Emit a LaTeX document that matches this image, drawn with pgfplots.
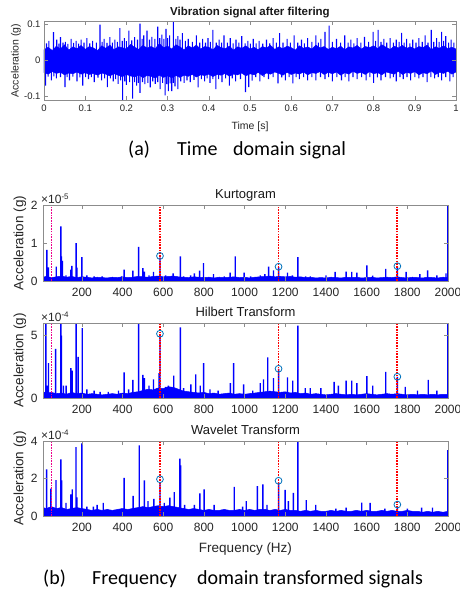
\documentclass[border=0pt]{standalone}
\usepackage{pgfplots}
\pgfplotsset{compat=1.18}
\usepackage{fontspec}
\setmainfont{Liberation Sans}
\newfontfamily\calfont{Carlito}

\definecolor{mblue}{RGB}{0,114,189}

\pgfplotsset{
  mat/.style={
    scale only axis, anchor=north west,
    axis line style={black!45}, tick style={black!45, line width=0.4pt},
    major tick length=4pt, tick align=inside, tick pos=both,
    ticklabel style={text=black!85}, label style={text=black!85},
    title style={text=black!90},
    /pgf/number format/assume math mode=true,
    /pgf/number format/1000 sep={},
    axis on top,
  },
  spec/.style={
    mat, width=405pt, xmin=9, xmax=2000, ymin=0,
    xtick={200,400,...,2000}, scaled x ticks=false,
    tick label style={font=\fontsize{12}{14}\selectfont},
    label style={font=\fontsize{13.5}{16}\selectfont},
    title style={font=\fontsize{13}{15}\selectfont, at={(0.5,1)}, anchor=base, yshift=0.5pt},
    ylabel={Acceleration (g)},
    ylabel style={at={(rel axis cs:0,0.5)}, anchor=center, yshift=23pt},
    xticklabel style={yshift=-4pt},
    yticklabel style={xshift=-2pt},
    every y tick scale label/.style={at={(rel axis cs:0,1)}, anchor=south west, inner sep=0pt, yshift=1pt},
  },
  floor/.style={draw=blue, fill=blue, line width=0.5pt},
  spikes/.style={ybar, bar shift=0pt, bar width=1.4pt, fill=blue, draw=none},
  harm/.style={red, line width=1.8pt, dash pattern=on 1.6pt off 1.1pt},
  line50/.style={magenta, line width=1.8pt, dash pattern=on 1.6pt off 1.1pt},
  peak/.style={only marks, mark=o, mark size=3.4pt, mblue, line width=0.8pt},
}

\begin{document}
\begin{tikzpicture}
\useasboundingbox (0,0) rectangle (460pt,-595pt);
\fill[white] (0,0) rectangle (460pt,-595pt);

% (a) time signal
\begin{axis}[mat, at={(44pt,-21pt)}, width=412pt, height=79pt,
  xmin=0, xmax=1, ymin=-0.11, ymax=0.11,
  xtick={0,0.1,...,1}, xticklabels={0,0.1,0.2,0.3,0.4,0.5,0.6,0.7,0.8,0.9,1},
  ytick={-0.1,0,0.1}, yticklabels={-0.1,0,0.1}, scaled ticks=false,
  tick label style={font=\fontsize{9.5}{11}\selectfont},
  label style={font=\fontsize{10.5}{12}\selectfont},
  title={Vibration signal after filtering},
  title style={font=\bfseries\fontsize{11.5}{13}\selectfont, at={(0.5,1)}, anchor=base, yshift=-0.5pt},
  xlabel={Time [s]}, xlabel style={at={(rel axis cs:0.5,0)}, anchor=base, yshift=-29pt},
  ylabel={Acceleration (g)}, ylabel style={at={(rel axis cs:0,0.5)}, anchor=center, yshift=28pt},
  xticklabel style={yshift=-1pt},
]
\addplot[draw=blue, fill=blue, line width=0.4pt] coordinates {
(0.00,0.030) (0.01,0.037) (0.02,0.028) (0.03,0.040) (0.04,0.032) (0.05,0.044) (0.06,0.029) (0.07,0.038) (0.08,0.033) (0.09,0.042)
(0.10,0.031) (0.11,0.039) (0.12,0.035) (0.13,0.028) (0.14,0.041) (0.15,0.034) (0.16,0.043) (0.17,0.030) (0.18,0.038) (0.19,0.036)
(0.20,0.032) (0.21,0.045) (0.22,0.037) (0.23,0.031) (0.24,0.042) (0.25,0.035) (0.26,0.039) (0.27,0.033) (0.28,0.047) (0.29,0.036)
(0.30,0.040) (0.31,0.032) (0.32,0.044) (0.33,0.038) (0.34,0.030) (0.35,0.041) (0.36,0.035) (0.37,0.043) (0.38,0.032) (0.39,0.039)
(0.40,0.037) (0.41,0.030) (0.42,0.042) (0.43,0.036) (0.44,0.033) (0.45,0.040) (0.46,0.029) (0.47,0.038) (0.48,0.034) (0.49,0.041)
(0.50,0.032) (0.51,0.037) (0.52,0.030) (0.53,0.039) (0.54,0.035) (0.55,0.042) (0.56,0.031) (0.57,0.038) (0.58,0.033) (0.59,0.040)
(0.60,0.036) (0.61,0.029) (0.62,0.041) (0.63,0.034) (0.64,0.038) (0.65,0.032) (0.66,0.043) (0.67,0.035) (0.68,0.039) (0.69,0.031)
(0.70,0.037) (0.71,0.033) (0.72,0.040) (0.73,0.030) (0.74,0.038) (0.75,0.035) (0.76,0.042) (0.77,0.032) (0.78,0.039) (0.79,0.036)
(0.80,0.041) (0.81,0.033) (0.82,0.044) (0.83,0.037) (0.84,0.031) (0.85,0.040) (0.86,0.035) (0.87,0.042) (0.88,0.034) (0.89,0.038)
(0.90,0.032) (0.91,0.039) (0.92,0.036) (0.93,0.043) (0.94,0.030) (0.95,0.038) (0.96,0.034) (0.97,0.041) (0.98,0.033) (0.99,0.037)
(1.00,0.032)
(1.00,-0.032) (0.99,-0.038) (0.98,-0.030) (0.97,-0.036) (0.96,-0.033) (0.95,-0.039) (0.94,-0.029) (0.93,-0.037) (0.92,-0.034) (0.91,-0.040)
(0.90,-0.031) (0.89,-0.036) (0.88,-0.033) (0.87,-0.039) (0.86,-0.030) (0.85,-0.038) (0.84,-0.035) (0.83,-0.032) (0.82,-0.040) (0.81,-0.034)
(0.80,-0.037) (0.79,-0.031) (0.78,-0.039) (0.77,-0.033) (0.76,-0.036) (0.75,-0.030) (0.74,-0.038) (0.73,-0.034) (0.72,-0.041) (0.71,-0.032)
(0.70,-0.037) (0.69,-0.033) (0.68,-0.039) (0.67,-0.031) (0.66,-0.036) (0.65,-0.034) (0.64,-0.040) (0.63,-0.032) (0.62,-0.038) (0.61,-0.035)
(0.60,-0.039) (0.59,-0.033) (0.58,-0.041) (0.57,-0.036) (0.56,-0.032) (0.55,-0.038) (0.54,-0.035) (0.53,-0.042) (0.52,-0.033) (0.51,-0.040)
(0.50,-0.037) (0.49,-0.043) (0.48,-0.035) (0.47,-0.040) (0.46,-0.038) (0.45,-0.044) (0.44,-0.036) (0.43,-0.041) (0.42,-0.039) (0.41,-0.045)
(0.40,-0.038) (0.39,-0.042) (0.38,-0.040) (0.37,-0.046) (0.36,-0.039) (0.35,-0.044) (0.34,-0.041) (0.33,-0.047) (0.32,-0.042) (0.31,-0.048)
(0.30,-0.043) (0.29,-0.047) (0.28,-0.041) (0.27,-0.049) (0.26,-0.044) (0.25,-0.042) (0.24,-0.048) (0.23,-0.040) (0.22,-0.046) (0.21,-0.043)
(0.20,-0.039) (0.19,-0.045) (0.18,-0.041) (0.17,-0.037) (0.16,-0.043) (0.15,-0.038) (0.14,-0.035) (0.13,-0.041) (0.12,-0.036) (0.11,-0.039)
(0.10,-0.034) (0.09,-0.038) (0.08,-0.032) (0.07,-0.037) (0.06,-0.035) (0.05,-0.040) (0.04,-0.033) (0.03,-0.036) (0.02,-0.031) (0.01,-0.038)
(0.00,-0.034)
} -- cycle;
\addplot[spikes, bar width=1.1pt] coordinates {
(0.006,0.048) (0.012,0.055) (0.023,0.079) (0.031,0.058) (0.036,0.047) (0.040,0.065) (0.046,0.050) (0.052,0.052)
(0.058,0.046) (0.066,0.060) (0.072,0.049) (0.078,0.055) (0.084,0.047) (0.090,0.058) (0.097,0.050) (0.104,0.062)
(0.111,0.048) (0.118,0.055) (0.127,0.050) (0.136,0.100) (0.141,0.052) (0.146,0.060) (0.153,0.049) (0.160,0.065)
(0.166,0.050) (0.172,0.058) (0.178,0.052) (0.184,0.090) (0.190,0.055) (0.195,0.062) (0.200,0.054) (0.206,0.083)
(0.213,0.056) (0.220,0.065) (0.227,0.058) (0.233,0.103) (0.238,0.060) (0.242,0.070) (0.250,0.083) (0.256,0.058)
(0.262,0.066) (0.269,0.060) (0.276,0.094) (0.281,0.062) (0.286,0.072) (0.291,0.060) (0.296,0.088) (0.300,0.062)
(0.305,0.070) (0.314,0.110) (0.320,0.060) (0.325,0.068) (0.330,0.058) (0.336,0.076) (0.343,0.055) (0.350,0.060)
(0.360,0.052) (0.370,0.070) (0.378,0.050) (0.385,0.060) (0.392,0.050) (0.398,0.062) (0.404,0.052) (0.410,0.085)
(0.418,0.050) (0.425,0.058) (0.431,0.050) (0.437,0.070) (0.445,0.050) (0.452,0.062) (0.459,0.048) (0.466,0.058)
(0.473,0.050) (0.480,0.068) (0.488,0.048) (0.495,0.055) (0.501,0.047) (0.508,0.060) (0.515,0.048) (0.522,0.055)
(0.531,0.047) (0.540,0.058) (0.548,0.048) (0.556,0.062) (0.564,0.050) (0.572,0.076) (0.580,0.050) (0.590,0.060)
(0.598,0.050) (0.607,0.070) (0.616,0.050) (0.625,0.058) (0.632,0.048) (0.640,0.062) (0.650,0.052) (0.660,0.070)
(0.666,0.050) (0.672,0.060) (0.682,0.080) (0.692,0.097) (0.700,0.052) (0.710,0.060) (0.720,0.050) (0.730,0.070)
(0.738,0.050) (0.745,0.058) (0.752,0.048) (0.760,0.062) (0.769,0.050) (0.778,0.066) (0.788,0.052) (0.799,0.080)
(0.805,0.055) (0.811,0.085) (0.818,0.052) (0.825,0.060) (0.832,0.050) (0.840,0.062) (0.848,0.050) (0.855,0.058)
(0.862,0.052) (0.868,0.077) (0.874,0.050) (0.880,0.060) (0.888,0.048) (0.895,0.058) (0.903,0.050) (0.910,0.062)
(0.918,0.052) (0.925,0.070) (0.932,0.050) (0.940,0.085) (0.946,0.052) (0.953,0.062) (0.959,0.052) (0.965,0.080)
(0.970,0.055) (0.975,0.068) (0.982,0.050) (0.988,0.058) (0.995,0.050)
(0.004,-0.070) (0.010,-0.045) (0.018,-0.055) (0.024,-0.044) (0.030,-0.050) (0.040,-0.046) (0.051,-0.074) (0.056,-0.046)
(0.062,-0.055) (0.070,-0.045) (0.080,-0.058) (0.087,-0.047) (0.094,-0.070) (0.101,-0.046) (0.108,-0.052) (0.115,-0.046)
(0.122,-0.060) (0.131,-0.048) (0.140,-0.055) (0.147,-0.050) (0.154,-0.074) (0.161,-0.050) (0.168,-0.058) (0.174,-0.052)
(0.180,-0.065) (0.186,-0.055) (0.191,-0.112) (0.196,-0.058) (0.200,-0.068) (0.208,-0.060) (0.215,-0.106) (0.220,-0.060)
(0.225,-0.070) (0.229,-0.062) (0.233,-0.090) (0.239,-0.060) (0.245,-0.066) (0.252,-0.062) (0.258,-0.075) (0.264,-0.058)
(0.270,-0.065) (0.276,-0.060) (0.282,-0.080) (0.288,-0.062) (0.294,-0.097) (0.298,-0.066) (0.302,-0.085) (0.306,-0.064)
(0.310,-0.085) (0.314,-0.062) (0.318,-0.072) (0.325,-0.080) (0.332,-0.058) (0.340,-0.062) (0.347,-0.055) (0.355,-0.060)
(0.364,-0.054) (0.374,-0.075) (0.382,-0.052) (0.390,-0.058) (0.396,-0.050) (0.403,-0.062) (0.410,-0.052) (0.417,-0.080)
(0.424,-0.052) (0.432,-0.060) (0.441,-0.050) (0.450,-0.070) (0.457,-0.050) (0.465,-0.058) (0.477,-0.052) (0.489,-0.088)
(0.497,-0.074) (0.505,-0.056) (0.514,-0.046) (0.524,-0.058) (0.534,-0.046) (0.545,-0.052) (0.556,-0.046) (0.568,-0.064)
(0.577,-0.047) (0.586,-0.055) (0.595,-0.046) (0.604,-0.064) (0.612,-0.046) (0.620,-0.052) (0.630,-0.046) (0.640,-0.055)
(0.650,-0.046) (0.660,-0.055) (0.671,-0.046) (0.682,-0.052) (0.691,-0.046) (0.700,-0.058) (0.711,-0.046) (0.722,-0.055)
(0.731,-0.046) (0.740,-0.058) (0.750,-0.046) (0.760,-0.052) (0.771,-0.046) (0.782,-0.055) (0.791,-0.046) (0.800,-0.062)
(0.809,-0.047) (0.818,-0.055) (0.829,-0.046) (0.840,-0.050) (0.848,-0.046) (0.855,-0.058) (0.864,-0.046) (0.872,-0.052)
(0.881,-0.046) (0.890,-0.055) (0.900,-0.046) (0.910,-0.050) (0.920,-0.046) (0.930,-0.060) (0.939,-0.046) (0.948,-0.050)
(0.957,-0.046) (0.965,-0.055) (0.975,-0.046) (0.985,-0.058) (0.993,-0.046)
};
\end{axis}

% (b) Kurtogram
\begin{axis}[spec, at={(43pt,-205pt)}, height=76pt, ymax=2e-5,
  ytick={0,1e-5,2e-5}, scaled y ticks=base 10:5,
  ytick scale label code/.code={\fontsize{12}{14}\selectfont ×10\textsuperscript{-5}},
  title={Kurtogram}]
\addplot[floor] coordinates {
(9,0.10e-5) (25,0.12e-5) (50,0.09e-5) (75,0.11e-5) (100,0.13e-5) (125,0.10e-5) (150,0.12e-5) (175,0.09e-5) (200,0.11e-5)
(225,0.10e-5) (250,0.08e-5) (275,0.10e-5) (300,0.09e-5) (325,0.08e-5) (350,0.10e-5) (375,0.09e-5) (400,0.11e-5)
(425,0.09e-5) (450,0.10e-5) (475,0.12e-5) (500,0.11e-5) (525,0.10e-5) (550,0.12e-5) (575,0.13e-5) (600,0.11e-5)
(625,0.12e-5) (650,0.13e-5) (675,0.11e-5) (700,0.10e-5) (725,0.09e-5) (750,0.11e-5) (775,0.10e-5) (800,0.09e-5)
(825,0.10e-5) (850,0.08e-5) (875,0.10e-5) (900,0.09e-5) (925,0.10e-5) (950,0.11e-5) (975,0.09e-5) (1000,0.10e-5)
(1025,0.08e-5) (1050,0.10e-5) (1075,0.11e-5) (1100,0.12e-5) (1125,0.13e-5) (1150,0.11e-5) (1175,0.12e-5) (1200,0.11e-5)
(1225,0.12e-5) (1250,0.10e-5) (1275,0.11e-5) (1300,0.09e-5) (1325,0.10e-5) (1350,0.08e-5) (1375,0.09e-5) (1400,0.08e-5)
(1425,0.10e-5) (1450,0.09e-5) (1475,0.08e-5) (1500,0.10e-5) (1525,0.09e-5) (1550,0.10e-5) (1575,0.08e-5) (1600,0.09e-5)
(1625,0.10e-5) (1650,0.08e-5) (1675,0.09e-5) (1700,0.10e-5) (1725,0.09e-5) (1750,0.11e-5) (1775,0.09e-5) (1800,0.08e-5)
(1825,0.10e-5) (1850,0.09e-5) (1875,0.08e-5) (1900,0.10e-5) (1925,0.09e-5) (1950,0.08e-5) (1975,0.10e-5) (2000,0.09e-5)
} \closedcycle;
\addplot[spikes] coordinates {
(28,0.82e-5) (36,0.36e-5) (74,0.38e-5) (97,1.44e-5) (100,0.65e-5) (104,0.53e-5) (122,0.15e-5) (146,0.30e-5) (151,0.40e-5)
(172,1.00e-5) (176,0.35e-5) (200,0.63e-5) (225,0.15e-5) (260,0.12e-5) (300,0.12e-5) (350,0.10e-5) (395,0.12e-5)
(408,0.30e-5) (451,0.27e-5) (479,0.90e-5) (500,0.34e-5) (507,0.25e-5) (530,0.15e-5) (552,0.24e-5) (584,0.62e-5)
(612,0.15e-5) (649,0.20e-5) (684,0.65e-5) (700,0.12e-5) (735,0.15e-5) (753,0.20e-5) (779,0.27e-5) (798,0.47e-5)
(847,0.18e-5) (900,0.12e-5) (929,0.22e-5) (954,0.65e-5) (998,0.22e-5) (1030,0.12e-5) (1077,0.15e-5) (1100,0.18e-5)
(1118,0.38e-5) (1142,0.28e-5) (1167,0.37e-5) (1211,0.22e-5) (1235,0.15e-5) (1262,0.63e-5) (1300,0.12e-5) (1323,0.12e-5)
(1400,0.15e-5) (1445,0.24e-5) (1499,0.25e-5) (1527,0.24e-5) (1552,0.22e-5) (1601,0.41e-5) (1630,0.14e-5) (1694,0.32e-5)
(1751,0.38e-5) (1794,0.24e-5) (1862,0.18e-5) (1900,0.28e-5) (1945,0.15e-5) (1990,0.20e-5) (1999,2.5e-5)
};
\addplot[line50] coordinates {(51,0) (51,2e-5)};
\addplot[harm] coordinates {(584,0) (584,2e-5)};
\addplot[harm] coordinates {(1167,0) (1167,2e-5)};
\addplot[harm] coordinates {(1751,0) (1751,2e-5)};
\addplot[peak] coordinates {(584,0.66e-5) (1167,0.375e-5) (1751,0.39e-5)};
\end{axis}

% (b) Hilbert
\begin{axis}[spec, at={(43pt,-323pt)}, height=75pt, ymax=6e-4,
  ytick={0,5e-4}, scaled y ticks=base 10:4,
  ytick scale label code/.code={\fontsize{12}{14}\selectfont ×10\textsuperscript{-4}},
  title={Hilbert Transform}]
\addplot[floor] coordinates {
(9,0.50e-4) (25,0.40e-4) (50,0.45e-4) (75,0.35e-4) (100,0.40e-4) (125,0.30e-4) (150,0.45e-4) (175,0.35e-4) (200,0.40e-4)
(225,0.30e-4) (250,0.35e-4) (275,0.30e-4) (300,0.25e-4) (325,0.30e-4) (350,0.35e-4) (375,0.30e-4) (400,0.40e-4)
(425,0.35e-4) (450,0.45e-4) (475,0.50e-4) (500,0.60e-4) (525,0.70e-4) (550,0.65e-4) (575,0.80e-4) (600,0.75e-4)
(625,0.90e-4) (650,0.85e-4) (675,0.70e-4) (700,0.55e-4) (725,0.50e-4) (750,0.45e-4) (775,0.40e-4) (800,0.45e-4)
(825,0.35e-4) (850,0.40e-4) (875,0.30e-4) (900,0.35e-4) (925,0.40e-4) (950,0.30e-4) (975,0.35e-4) (1000,0.30e-4)
(1025,0.35e-4) (1050,0.40e-4) (1075,0.45e-4) (1100,0.50e-4) (1125,0.55e-4) (1150,0.50e-4) (1175,0.45e-4) (1200,0.50e-4)
(1225,0.40e-4) (1250,0.45e-4) (1275,0.35e-4) (1300,0.40e-4) (1325,0.30e-4) (1350,0.35e-4) (1375,0.30e-4) (1400,0.25e-4)
(1425,0.30e-4) (1450,0.35e-4) (1475,0.30e-4) (1500,0.25e-4) (1525,0.30e-4) (1550,0.25e-4) (1575,0.30e-4) (1600,0.35e-4)
(1625,0.30e-4) (1650,0.25e-4) (1675,0.30e-4) (1700,0.35e-4) (1725,0.30e-4) (1750,0.35e-4) (1775,0.30e-4) (1800,0.25e-4)
(1825,0.30e-4) (1850,0.25e-4) (1875,0.30e-4) (1900,0.25e-4) (1925,0.30e-4) (1950,0.25e-4) (1975,0.30e-4) (2000,0.30e-4)
} \closedcycle;
\addplot[spikes] coordinates {
(23,6.5e-4) (28,1.0e-4) (36,2.8e-4) (71,3.93e-4) (97,6.5e-4) (100,5.0e-4) (110,1.0e-4) (123,1.0e-4) (146,2.4e-4)
(152,2.2e-4) (172,6.5e-4) (182,3.3e-4) (202,5.6e-4) (225,0.7e-4) (260,0.6e-4) (290,0.5e-4) (330,0.5e-4) (380,0.6e-4)
(408,2.05e-4) (430,0.7e-4) (451,1.45e-4) (479,6.5e-4) (500,1.85e-4) (507,1.6e-4) (530,1.0e-4) (552,1.5e-4) (580,2.0e-4)
(584,5.1e-4) (612,0.9e-4) (625,1.0e-4) (652,1.8e-4) (684,5.65e-4) (700,0.8e-4) (736,1.1e-4) (760,1.9e-4) (782,1.0e-4)
(799,2.8e-4) (830,0.7e-4) (870,0.6e-4) (930,1.2e-4) (946,2.8e-4) (995,1.1e-4) (1040,0.6e-4) (1077,1.2e-4) (1093,1.5e-4)
(1114,3.25e-4) (1142,1.6e-4) (1167,2.34e-4) (1211,1.65e-4) (1237,1.4e-4) (1262,5.8e-4) (1298,0.8e-4) (1323,0.8e-4)
(1375,0.8e-4) (1440,1.3e-4) (1461,1.0e-4) (1499,1.4e-4) (1527,1.4e-4) (1552,1.2e-4) (1601,1.75e-4) (1630,1.0e-4)
(1694,2.1e-4) (1751,1.7e-4) (1790,0.9e-4) (1850,0.6e-4) (1903,1.45e-4) (1945,0.6e-4) (1999,6.5e-4)
};
\addplot[line50] coordinates {(51,0) (51,6e-4)};
\addplot[harm] coordinates {(584,0) (584,6e-4)};
\addplot[harm] coordinates {(1167,0) (1167,6e-4)};
\addplot[harm] coordinates {(1751,0) (1751,6e-4)};
\addplot[peak] coordinates {(584,5.14e-4) (1167,2.34e-4) (1751,1.70e-4)};
\end{axis}

% (b) Wavelet
\begin{axis}[spec, at={(43pt,-441pt)}, height=75pt, ymax=4e-4,
  ytick={0,2e-4,4e-4}, scaled y ticks=base 10:4,
  ytick scale label code/.code={\fontsize{12}{14}\selectfont ×10\textsuperscript{-4}},
  title={Wavelet Transform},
  xlabel={Frequency (Hz)}, xlabel style={at={(rel axis cs:0.5,0)}, anchor=base, yshift=-36pt}]
\addplot[floor] coordinates {
(9,0.45e-4) (25,0.40e-4) (50,0.50e-4) (75,0.40e-4) (100,0.45e-4) (125,0.35e-4) (150,0.40e-4) (175,0.45e-4) (200,0.40e-4)
(225,0.35e-4) (250,0.30e-4) (275,0.35e-4) (300,0.30e-4) (325,0.35e-4) (350,0.30e-4) (375,0.35e-4) (400,0.40e-4)
(425,0.35e-4) (450,0.40e-4) (475,0.45e-4) (500,0.50e-4) (525,0.45e-4) (550,0.50e-4) (575,0.55e-4) (600,0.50e-4)
(625,0.55e-4) (650,0.50e-4) (675,0.45e-4) (700,0.40e-4) (725,0.35e-4) (750,0.40e-4) (775,0.35e-4) (800,0.30e-4)
(825,0.35e-4) (850,0.30e-4) (875,0.30e-4) (900,0.35e-4) (925,0.30e-4) (950,0.30e-4) (975,0.35e-4) (1000,0.30e-4)
(1025,0.35e-4) (1050,0.30e-4) (1075,0.35e-4) (1100,0.35e-4) (1125,0.30e-4) (1150,0.35e-4) (1175,0.30e-4) (1200,0.35e-4)
(1225,0.30e-4) (1250,0.30e-4) (1275,0.25e-4) (1300,0.30e-4) (1325,0.25e-4) (1350,0.30e-4) (1375,0.25e-4) (1400,0.25e-4)
(1425,0.30e-4) (1450,0.25e-4) (1475,0.30e-4) (1500,0.25e-4) (1525,0.25e-4) (1550,0.30e-4) (1575,0.25e-4) (1600,0.30e-4)
(1625,0.25e-4) (1650,0.25e-4) (1675,0.30e-4) (1700,0.25e-4) (1725,0.30e-4) (1750,0.25e-4) (1775,0.25e-4) (1800,0.30e-4)
(1825,0.25e-4) (1850,0.25e-4) (1875,0.20e-4) (1900,0.25e-4) (1925,0.20e-4) (1950,0.25e-4) (1975,0.20e-4) (2000,0.25e-4)
} \closedcycle;
\addplot[spikes] coordinates {
(27,2.49e-4) (48,1.46e-4) (73,1.92e-4) (97,3.02e-4) (101,1.9e-4) (122,0.7e-4) (146,1.16e-4) (153,1.42e-4) (171,3.68e-4)
(176,1.0e-4) (200,3.88e-4) (225,0.5e-4) (257,0.5e-4) (275,0.6e-4) (305,0.7e-4) (408,2.04e-4) (452,1.07e-4) (482,3.77e-4)
(507,1.9e-4) (525,0.8e-4) (554,0.92e-4) (584,1.75e-4) (605,0.7e-4) (633,0.98e-4) (654,1.28e-4) (682,3.06e-4) (686,2.7e-4)
(705,0.6e-4) (753,0.6e-4) (780,1.21e-4) (801,1.42e-4) (850,0.6e-4) (949,1.55e-4) (990,0.5e-4) (1008,0.8e-4) (1063,1.6e-4)
(1090,1.69e-4) (1110,0.6e-4) (1167,1.8e-4) (1199,1.39e-4) (1215,0.8e-4) (1240,1.24e-4) (1262,4.5e-4) (1303,0.85e-4)
(1350,0.6e-4) (1449,0.4e-4) (1499,0.45e-4) (1576,0.71e-4) (1617,0.7e-4) (1690,0.4e-4) (1751,0.5e-4) (1800,0.4e-4)
(1870,0.45e-4) (1924,0.45e-4) (1999,3.52e-4)
};
\addplot[line50] coordinates {(51,0) (51,4e-4)};
\addplot[harm] coordinates {(584,0) (584,4e-4)};
\addplot[harm] coordinates {(1167,0) (1167,4e-4)};
\addplot[harm] coordinates {(1751,0) (1751,4e-4)};
\addplot[peak] coordinates {(584,1.96e-4) (1167,1.88e-4) (1751,0.61e-4)};
\end{axis}

% captions
\begin{scope}[every node/.style={anchor=base west, inner sep=0pt, font=\calfont\fontsize{20}{24}\selectfont}]
\node at (128pt,-155pt) {(a)};
\node at (177pt,-155pt) {Time};
\node at (233pt,-155pt) {domain signal};
\node at (43pt,-584pt) {(b)};
\node at (92pt,-584pt) {Frequency};
\node at (197pt,-584pt) {domain transformed signals};
\end{scope}
\end{tikzpicture}
\end{document}
